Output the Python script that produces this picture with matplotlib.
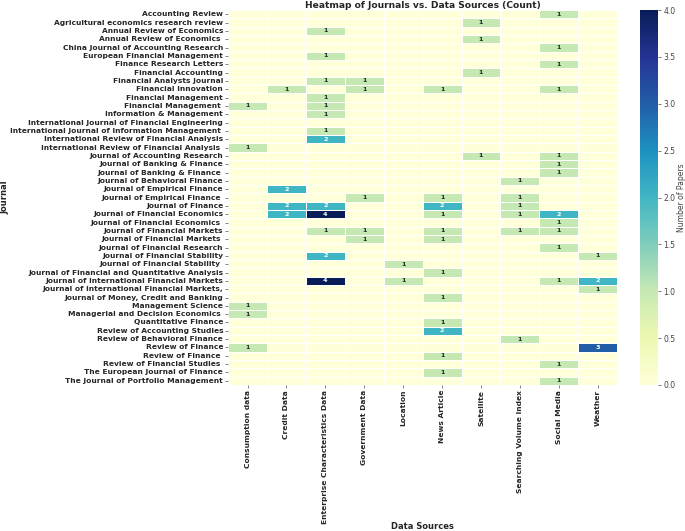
import numpy as np
import pandas as pd
import matplotlib
matplotlib.use("Agg")
import matplotlib.pyplot as plt
import seaborn as sns

sources = ["Consumption data", "Credit Data", "Enterprise Characteristics Data",
           "Government Data", "Location", "News Article", "Satellite",
           "Searching Volume Index", "Social Media", "Weather"]

journals = [
    "Accounting Review",
    "Agricultural economics research review",
    "Annual Review of Economics",
    "Annual Review of Economics ",
    "China Journal of Accounting Research",
    "European Financial Management",
    "Finance Research Letters",
    "Financial Accounting",
    "Financial Analysts Journal",
    "Financial Innovation",
    "Financial Management",
    "Financial Management ",
    "Information & Management",
    "International Journal of Financial Engineering",
    "International Journal of Information Management ",
    "International Review of Financial Analysis",
    "International Review of Financial Analysis ",
    "Journal of Accounting Research",
    "Journal of Banking & Finance",
    "Journal of Banking & Finance ",
    "Journal of Behavioral Finance",
    "Journal of Empirical Finance",
    "Journal of Empirical Finance ",
    "Journal of Finance",
    "Journal of Financial Economics",
    "Journal of Financial Economics ",
    "Journal of Financial Markets",
    "Journal of Financial Markets ",
    "Journal of Financial Research",
    "Journal of Financial Stability",
    "Journal of Financial Stability ",
    "Journal of Financial and Quantitative Analysis",
    "Journal of International Financial Markets",
    "Journal of International Financial Markets,",
    "Journal of Money, Credit and Banking",
    "Management Science",
    "Managerial and Decision Economics ",
    "Quantitative Finance",
    "Review of Accounting Studies",
    "Review of Behavioral Finance",
    "Review of Finance",
    "Review of Finance ",
    "Review of Financial Studies ",
    "The European Journal of Finance",
    "The Journal of Portfolio Management",
]

# counts per journal, columns in the order of `sources`
counts = [
    [0, 0, 0, 0, 0, 0, 0, 0, 1, 0],
    [0, 0, 0, 0, 0, 0, 1, 0, 0, 0],
    [0, 0, 1, 0, 0, 0, 0, 0, 0, 0],
    [0, 0, 0, 0, 0, 0, 1, 0, 0, 0],
    [0, 0, 0, 0, 0, 0, 0, 0, 1, 0],
    [0, 0, 1, 0, 0, 0, 0, 0, 0, 0],
    [0, 0, 0, 0, 0, 0, 0, 0, 1, 0],
    [0, 0, 0, 0, 0, 0, 1, 0, 0, 0],
    [0, 0, 1, 1, 0, 0, 0, 0, 0, 0],
    [0, 1, 0, 1, 0, 1, 0, 0, 1, 0],
    [0, 0, 1, 0, 0, 0, 0, 0, 0, 0],
    [1, 0, 1, 0, 0, 0, 0, 0, 0, 0],
    [0, 0, 1, 0, 0, 0, 0, 0, 0, 0],
    [0, 0, 0, 0, 0, 0, 0, 0, 0, 0],
    [0, 0, 1, 0, 0, 0, 0, 0, 0, 0],
    [0, 0, 2, 0, 0, 0, 0, 0, 0, 0],
    [1, 0, 0, 0, 0, 0, 0, 0, 0, 0],
    [0, 0, 0, 0, 0, 0, 1, 0, 1, 0],
    [0, 0, 0, 0, 0, 0, 0, 0, 1, 0],
    [0, 0, 0, 0, 0, 0, 0, 0, 1, 0],
    [0, 0, 0, 0, 0, 0, 0, 1, 0, 0],
    [0, 2, 0, 0, 0, 0, 0, 0, 0, 0],
    [0, 0, 0, 1, 0, 1, 0, 1, 0, 0],
    [0, 2, 2, 0, 0, 2, 0, 1, 0, 0],
    [0, 2, 4, 0, 0, 1, 0, 1, 2, 0],
    [0, 0, 0, 0, 0, 0, 0, 0, 1, 0],
    [0, 0, 1, 1, 0, 1, 0, 1, 1, 0],
    [0, 0, 0, 1, 0, 1, 0, 0, 0, 0],
    [0, 0, 0, 0, 0, 0, 0, 0, 1, 0],
    [0, 0, 2, 0, 0, 0, 0, 0, 0, 1],
    [0, 0, 0, 0, 1, 0, 0, 0, 0, 0],
    [0, 0, 0, 0, 0, 1, 0, 0, 0, 0],
    [0, 0, 4, 0, 1, 0, 0, 0, 1, 2],
    [0, 0, 0, 0, 0, 0, 0, 0, 0, 1],
    [0, 0, 0, 0, 0, 1, 0, 0, 0, 0],
    [1, 0, 0, 0, 0, 0, 0, 0, 0, 0],
    [1, 0, 0, 0, 0, 0, 0, 0, 0, 0],
    [0, 0, 0, 0, 0, 1, 0, 0, 0, 0],
    [0, 0, 0, 0, 0, 2, 0, 0, 0, 0],
    [0, 0, 0, 0, 0, 0, 0, 1, 0, 0],
    [1, 0, 0, 0, 0, 0, 0, 0, 0, 3],
    [0, 0, 0, 0, 0, 1, 0, 0, 0, 0],
    [0, 0, 0, 0, 0, 0, 0, 0, 1, 0],
    [0, 0, 0, 0, 0, 1, 0, 0, 0, 0],
    [0, 0, 0, 0, 0, 0, 0, 0, 1, 0],
]

df = pd.DataFrame(counts, index=journals, columns=sources)
labels = df.map(lambda v: str(v) if v > 0 else "")

fig = plt.figure(figsize=(6.85, 5.31), dpi=100)
ax = fig.add_axes([0.333, 0.275, 0.568, 0.706])
cax = fig.add_axes([0.934, 0.275, 0.027, 0.706])

sns.heatmap(df, ax=ax, cbar_ax=cax, cmap="YlGnBu", vmin=0, vmax=4,
            annot=labels, fmt="", linewidths=0.6, linecolor="white",
            annot_kws={"fontsize": 4.6, "fontweight": "bold"})

ax.set_title("Heatmap of Journals vs. Data Sources (Count)",
             fontsize=6.6, fontweight="bold", pad=1.5, color="#262626")
ax.set_xticks(np.arange(len(sources)) + 0.5)
ax.set_xticklabels(sources, rotation=90, fontsize=5.4, fontweight="bold")
ax.set_yticks(np.arange(len(journals)) + 0.5)
ax.set_yticklabels(journals, rotation=0, fontsize=5.4, fontweight="bold")
ax.tick_params(length=2, width=0.5, pad=1.5, colors="#555555", labelcolor="#262626")

ax.set_xlabel("Data Sources", fontsize=6, fontweight="bold", color="#262626")
ax.set_ylabel("Journal", fontsize=6, fontweight="bold", color="#262626")
ax.xaxis.set_label_coords(0.5, -0.366)
ax.yaxis.set_label_coords(-0.563, 0.5)

cbar = ax.collections[0].colorbar
cbar.set_ticks(np.arange(0, 4.01, 0.5))
cbar.outline.set_visible(False)
cax.tick_params(labelsize=5.5, length=2, width=0.5, pad=1.5, colors="#444444")
cax.set_ylabel("Number of Papers", fontsize=5.5, color="#444444", labelpad=1)

fig.savefig("out.png", dpi=100)
